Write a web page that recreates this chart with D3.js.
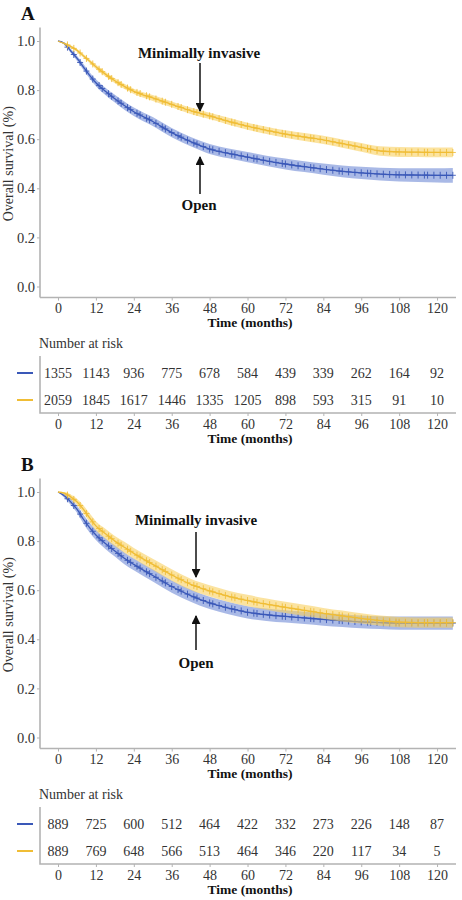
<!DOCTYPE html>
<html>
<head>
<meta charset="utf-8">
<script src="https://cdn.jsdelivr.net/npm/d3@7"></script>
<style>
  html, body { margin: 0; padding: 0; background: #fff; }
  svg { display: block; }
</style>
</head>
<body>
<svg id="chart" width="462" height="900"></svg>
<script>
// ---------------- DATA ----------------
const times = [0, 2, 4, 6, 8, 10, 12, 15, 18, 21, 24, 30, 36, 42, 48, 54, 60, 66, 72, 78, 84, 90, 96, 102, 108, 114, 120, 125];

const survA_open = [1.0, 0.99, 0.96, 0.93, 0.895, 0.86, 0.83, 0.795, 0.765, 0.737, 0.712, 0.672, 0.627, 0.59, 0.56, 0.542, 0.527, 0.512, 0.499, 0.488, 0.478, 0.469, 0.463, 0.458, 0.455, 0.454, 0.453, 0.453];
const survA_mi   = [1.0, 0.99, 0.978, 0.962, 0.94, 0.918, 0.895, 0.865, 0.838, 0.815, 0.795, 0.768, 0.742, 0.716, 0.695, 0.673, 0.653, 0.636, 0.621, 0.609, 0.597, 0.582, 0.567, 0.552, 0.548, 0.547, 0.546, 0.546];
const ciA_open   = [0, 0.005, 0.008, 0.01, 0.012, 0.013, 0.014, 0.015, 0.016, 0.017, 0.017, 0.018, 0.019, 0.019, 0.02, 0.02, 0.021, 0.021, 0.022, 0.022, 0.023, 0.024, 0.025, 0.026, 0.027, 0.028, 0.029, 0.03];
const ciA_mi     = [0, 0.003, 0.005, 0.006, 0.007, 0.008, 0.009, 0.01, 0.01, 0.011, 0.011, 0.012, 0.012, 0.013, 0.013, 0.014, 0.014, 0.015, 0.015, 0.016, 0.017, 0.017, 0.018, 0.019, 0.02, 0.02, 0.02, 0.02];

const survB_open = [1.0, 0.985, 0.96, 0.93, 0.89, 0.855, 0.825, 0.79, 0.76, 0.73, 0.705, 0.66, 0.615, 0.578, 0.548, 0.527, 0.51, 0.5, 0.493, 0.487, 0.481, 0.476, 0.471, 0.468, 0.466, 0.466, 0.466, 0.466];
const survB_mi   = [1.0, 0.995, 0.98, 0.96, 0.93, 0.895, 0.862, 0.83, 0.8, 0.775, 0.75, 0.705, 0.662, 0.624, 0.597, 0.575, 0.558, 0.543, 0.53, 0.518, 0.506, 0.495, 0.485, 0.476, 0.47, 0.468, 0.468, 0.468];
const ciB_open   = [0, 0.008, 0.012, 0.015, 0.018, 0.02, 0.021, 0.022, 0.023, 0.024, 0.024, 0.025, 0.025, 0.025, 0.025, 0.025, 0.025, 0.025, 0.025, 0.025, 0.026, 0.026, 0.026, 0.026, 0.027, 0.027, 0.027, 0.027];
const ciB_mi     = [0, 0.005, 0.01, 0.013, 0.016, 0.018, 0.019, 0.02, 0.021, 0.022, 0.022, 0.023, 0.023, 0.023, 0.023, 0.023, 0.023, 0.023, 0.023, 0.023, 0.022, 0.022, 0.021, 0.021, 0.021, 0.021, 0.021, 0.021];

const censorTimes = [3, 5, 7, 9, 11, 13, 14, 16, 17, 19, 20, 22, 23, 25, 26, 28, 29, 31, 33, 34, 36, 38, 39, 41, 43, 44, 46, 48, 49, 51, 53, 55, 56, 58, 60, 62, 63, 65, 67, 69, 71, 72, 74, 76, 78, 80, 81, 83, 85, 87, 89, 90, 92, 94, 96, 98, 99, 101, 103, 105, 107, 108, 110, 112, 114, 116, 117, 119, 121, 123, 125];

const xTicks = [0, 12, 24, 36, 48, 60, 72, 84, 96, 108, 120];
const yTicks = [0.0, 0.2, 0.4, 0.6, 0.8, 1.0];

const riskA_open = [1355, 1143, 936, 775, 678, 584, 439, 339, 262, 164, 92];
const riskA_mi   = [2059, 1845, 1617, 1446, 1335, 1205, 898, 593, 315, 91, 10];
const riskB_open = [889, 725, 600, 512, 464, 422, 332, 273, 226, 148, 87];
const riskB_mi   = [889, 769, 648, 566, 513, 464, 346, 220, 117, 34, 5];

const panelLabels = ["A", "B"];
const groupLabels = ["Minimally invasive", "Open"];

// ---------------- STYLE ----------------
const FONT = "'Liberation Serif', 'Times New Roman', serif";
const BLUE_LINE = "#3a58b8", BLUE_BAND = "#6f8ad6";
const YEL_LINE = "#f0bd35", YEL_BAND = "#f8d060";
const AXIS_COL = "#b3b3b3";
const TEXT_COL = "#333";

const svg = d3.select("#chart");

const x = d3.scaleLinear().domain([-5.7, 126]).range([40, 456]);

function drawPanel(off, label, open, mi, ciO, ciM, riskO, riskM, ann) {
  const g = svg.append("g").attr("transform", `translate(0,${off})`);
  const y = d3.scaleLinear().domain([0, 1]).range([286.5, 41]);

  // panel letter
  g.append("text").attr("x", 21).attr("y", 20)
    .attr("font-family", FONT).attr("font-weight", "bold").attr("font-size", 19)
    .attr("fill", "#111").text(label);

  // axes
  const yAxis = d3.axisLeft(y).tickValues(yTicks).tickFormat(d3.format(".1f")).tickSize(3).tickPadding(2);
  const ya = g.append("g").attr("transform", "translate(40,0)").call(yAxis);
  ya.select(".domain").attr("d", `M0,${y(1.055)}V${y(-0.045)}`).attr("stroke", AXIS_COL).attr("stroke-width", 1.6);
  ya.selectAll(".tick line").attr("stroke", AXIS_COL);
  ya.selectAll(".tick text").attr("font-family", FONT).attr("font-size", 14.5).attr("fill", TEXT_COL);

  const xAxis = d3.axisBottom(x).tickValues(xTicks).tickSize(3).tickPadding(3);
  const xa = g.append("g").attr("transform", `translate(0,${y(-0.045)})`).call(xAxis);
  xa.select(".domain").attr("d", `M40,0H456`).attr("stroke", AXIS_COL).attr("stroke-width", 1.6);
  xa.selectAll(".tick line").attr("stroke", AXIS_COL);
  xa.selectAll(".tick text").attr("font-family", FONT).attr("font-size", 14).attr("fill", TEXT_COL);

  g.append("text").attr("x", 250).attr("y", 327).attr("text-anchor", "middle")
    .attr("font-family", FONT).attr("font-weight", "bold").attr("font-size", 13.5)
    .attr("fill", "#111").text("Time (months)");

  g.append("text").attr("transform", `translate(13,${y(0.5)}) rotate(-90)`)
    .attr("text-anchor", "middle").attr("font-family", FONT).attr("font-size", 14)
    .attr("fill", TEXT_COL).text("Overall survival (%)");

  // curves
  const series = [
    { s: open, ci: ciO, line: BLUE_LINE, band: BLUE_BAND, bandOp: 0.6, mOp: 0.9 },
    { s: mi, ci: ciM, line: YEL_LINE, band: YEL_BAND, bandOp: 0.6, mOp: 0.85 }
  ];
  const curve = d3.curveMonotoneX;
  series.forEach(sr => {
    const pts = times.map((t, i) => ({ t, v: sr.s[i], c: sr.ci[i] }));
    const area = d3.area().curve(curve).x(d => x(d.t)).y0(d => y(d.v - d.c)).y1(d => y(d.v + d.c));
    g.append("path").datum(pts).attr("d", area).attr("fill", sr.band).attr("opacity", sr.bandOp);
    const line = d3.line().curve(curve).x(d => x(d.t)).y(d => y(d.v));
    g.append("path").datum(pts).attr("d", line).attr("fill", "none").attr("stroke", sr.line).attr("stroke-width", 1.3);
    const interp = t => {
      const i = d3.bisectRight(times, t) - 1;
      if (i >= times.length - 1) return sr.s[sr.s.length - 1];
      const f = (t - times[i]) / (times[i + 1] - times[i]);
      return sr.s[i] + f * (sr.s[i + 1] - sr.s[i]);
    };
    const cg = g.append("g").attr("stroke", sr.line).attr("stroke-width", 1).attr("opacity", sr.mOp);
    censorTimes.forEach(t => {
      const cx = x(t), cy = y(interp(t));
      cg.append("path").attr("d", `M${cx - 3},${cy}H${cx + 3}M${cx},${cy - 3.5}V${cy + 3.5}`);
    });
  });

  // annotations
  const ag = g.append("g");
  const defsId = "arrow" + label;
  svg.append("defs").append("marker").attr("id", defsId).attr("viewBox", "0 0 10 10")
    .attr("refX", 9).attr("refY", 5).attr("markerWidth", 6).attr("markerHeight", 6).attr("orient", "auto")
    .append("path").attr("d", "M0,0L10,5L0,10z").attr("fill", "#111");
  ag.append("text").attr("x", ann.miX).attr("y", ann.miTextY).attr("text-anchor", "middle")
    .attr("font-family", FONT).attr("font-weight", "bold").attr("font-size", 15).attr("fill", "#111")
    .text(groupLabels[0]);
  ag.append("line").attr("x1", ann.arrowX).attr("x2", ann.arrowX).attr("y1", ann.miA1).attr("y2", ann.miA2)
    .attr("stroke", "#111").attr("stroke-width", 1.5).attr("marker-end", `url(#${defsId})`);
  ag.append("text").attr("x", ann.opX).attr("y", ann.opTextY).attr("text-anchor", "middle")
    .attr("font-family", FONT).attr("font-weight", "bold").attr("font-size", 15).attr("fill", "#111")
    .text(groupLabels[1]);
  ag.append("line").attr("x1", ann.arrowX).attr("x2", ann.arrowX).attr("y1", ann.opA1).attr("y2", ann.opA2)
    .attr("stroke", "#111").attr("stroke-width", 1.5).attr("marker-end", `url(#${defsId})`);

  // risk table
  g.append("text").attr("x", 39).attr("y", 348).attr("font-family", FONT).attr("font-size", 14)
    .attr("fill", TEXT_COL).text("Number at risk");
  g.append("path").attr("d", "M40,356V413H456").attr("fill", "none").attr("stroke", AXIS_COL).attr("stroke-width", 1.6);
  const rx = g.append("g").attr("transform", "translate(0,413)").call(d3.axisBottom(x).tickValues(xTicks).tickSize(3).tickPadding(3));
  rx.select(".domain").remove();
  rx.selectAll(".tick line").attr("stroke", AXIS_COL);
  rx.selectAll(".tick text").attr("font-family", FONT).attr("font-size", 14).attr("fill", TEXT_COL);
  g.append("text").attr("x", 250).attr("y", 443).attr("text-anchor", "middle")
    .attr("font-family", FONT).attr("font-weight", "bold").attr("font-size", 13.5)
    .attr("fill", "#111").text("Time (months)");

  const rows = [{ vals: riskO, col: BLUE_LINE, yy: 373 }, { vals: riskM, col: YEL_LINE, yy: 400 }];
  rows.forEach(r => {
    g.append("line").attr("x1", 17).attr("x2", 33).attr("y1", r.yy).attr("y2", r.yy)
      .attr("stroke", r.col).attr("stroke-width", 2);
    g.append("g").selectAll("text").data(r.vals).join("text")
      .attr("x", (d, i) => x(xTicks[i])).attr("y", r.yy).attr("dy", "0.35em")
      .attr("text-anchor", "middle").attr("font-family", FONT).attr("font-size", 14)
      .attr("fill", TEXT_COL).text(d => d);
  });
}

drawPanel(0, panelLabels[0], survA_open, survA_mi, ciA_open, ciA_mi, riskA_open, riskA_mi,
  { miX: 199, miTextY: 58, arrowX: 200, miA1: 63, miA2: 111, opX: 199, opTextY: 210, opA1: 194, opA2: 157 });
drawPanel(451, panelLabels[1], survB_open, survB_mi, ciB_open, ciB_mi, riskB_open, riskB_mi,
  { miX: 196, miTextY: 74, arrowX: 196, miA1: 81, miA2: 126, opX: 196, opTextY: 217, opA1: 199, opA2: 165 });
</script>
</body>
</html>
